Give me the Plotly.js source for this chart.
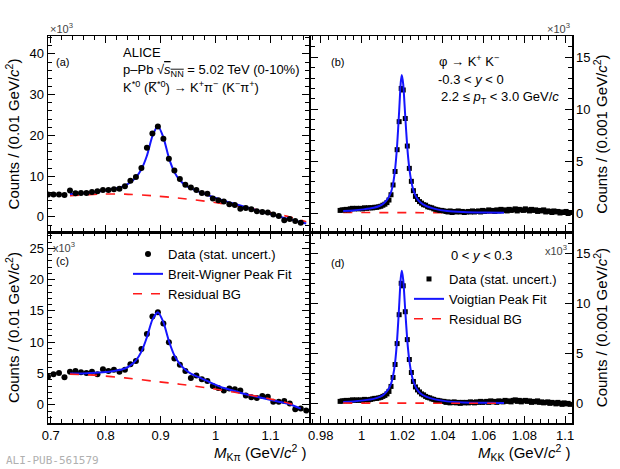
<!DOCTYPE html>
<html>
<head>
<meta charset="utf-8">
<script src="https://cdn.plot.ly/plotly-3.0.1.min.js"></script>
<style>body{margin:0;background:#fff}#chart{width:620px;height:469px}</style>
</head>
<body>
<div id="chart"></div>
<script>
// K*0 panels: 0.01 GeV bins starting at 0.695
const kstStart = 0.695, kstStep = 0.01;
const kstDataA = [5.5,5.5,5.5,5.4,6.5,5.8,5.9,5.9,6.1,6.3,6.6,6.6,6.8,6.9,7.5,8.9,9.8,12,17,20.5,22.2,19.2,14.3,11.4,9.3,7.9,7.2,6.6,5.9,5.7,4.5,4.1,3.8,3.1,2.9,2.0,2.2,1.9,1.4,1.2,1.1,0.6,0.2,-0.8,-0.5,-1.0,-1.4];
const kstDataC = [4.5,4.9,5.1,4.4,5.3,5.4,5.2,5.1,5.3,4.9,5.7,5.4,5.6,5.3,5.6,6.5,7.0,8.9,11.3,14.1,14.8,13.0,10.0,7.4,6.4,5.4,4.3,4.7,4.1,3.8,3.0,2.7,2.3,2.6,2.5,2.3,1.5,1.2,1.1,1.4,1.3,0.5,0.5,0.6,0.2,-0.7,-0.6,-0.9];

const fitAx = [0.735,0.755,0.775,0.795,0.815,0.835,0.845,0.855,0.865,0.875,0.885,0.895,0.905,0.915,0.925,0.935,0.945,0.955,0.975,0.995,1.015,1.035,1.055,1.075,1.095,1.115,1.135,1.155,1.165];
const fitA = [5.6,5.8,6.0,6.4,6.9,7.7,8.5,9.7,11.7,15.0,19.8,22.3,19.5,14.5,11.0,9.0,7.8,7.0,5.9,4.9,4.0,3.2,2.4,1.6,0.9,0.1,-0.6,-1.3,-1.6];
const bgAx = [0.735,0.785,0.835,0.885,0.935,0.985,1.035,1.085,1.135,1.165];
const bgA = [5.2,5.6,5.6,5.2,4.6,3.8,2.8,1.5,0.0,-1.2];

const fitCx = [0.735,0.755,0.775,0.795,0.815,0.835,0.845,0.855,0.865,0.875,0.885,0.895,0.905,0.915,0.925,0.935,0.945,0.955,0.975,0.995,1.015,1.035,1.055,1.075,1.095,1.115,1.135,1.155];
const fitC = [5.0,5.0,5.1,5.2,5.4,5.8,6.3,7.1,8.5,10.8,13.6,14.8,13.2,10.2,7.9,6.5,5.6,5.0,4.2,3.4,2.7,2.2,1.7,1.3,0.9,0.5,0.1,-0.6];
const bgCx = [0.735,0.785,0.835,0.885,0.935,0.985,1.035,1.085,1.135,1.155];
const bgC = [4.9,4.7,4.3,3.8,3.3,2.7,2.0,1.2,0.2,-0.5];

// phi panels: 0.001 GeV bins starting at 0.9895
const phiStart = 0.9895, phiStep = 0.001;
const phiDataB = [0.25,0.3,0.3,0.35,0.3,0.4,0.45,0.4,0.45,0.4,0.45,
  0.4,0.5,0.45,0.5,0.5,0.5,0.55,
  0.55,0.6,0.65,0.75,0.85,1.0,1.25,
  1.76,2.7,4.0,6.1,8.8,12.0,11.85,
  9.1,6.45,4.3,3.05,2.15,1.6,
  1.3,1.1,0.95,0.8,0.75,0.6,0.55,0.5,
  0.4,0.35,0.3,0.25,0.25,0.2,
  0.15,0.1,0.2,0.05,0.15,0.1,0.2,0.1,0.15,0.05,
  0.1,0.15,0.1,0.2,0.1,0.15,0.2,0.1,0.25,0.15,
  0.2,0.3,0.2,0.25,0.15,0.3,0.2,0.35,0.25,0.3,
  0.2,0.35,0.25,0.3,0.4,0.2,0.35,0.3,0.25,0.4,
  0.3,0.2,0.35,0.25,0.3,0.15,0.25,0.2,0.3,0.1,
  0.2,0.15,0.05,0.2,0.1,0.15,0.0,0.1,0.05,0.15,
  -0.05,0.05];
const phiDataD = [0.2,0.25,0.25,0.3,0.25,0.3,0.35,0.3,0.35,0.3,0.35,
  0.3,0.4,0.35,0.35,0.4,0.45,0.5,
  0.5,0.55,0.6,0.7,0.8,0.95,1.2,
  1.7,2.6,3.9,6.0,8.9,12.05,11.8,
  9.2,6.4,4.4,3.1,2.2,1.65,
  1.35,1.15,0.95,0.85,0.7,0.6,0.55,0.45,
  0.4,0.3,0.3,0.25,0.2,0.2,
  0.1,0.15,0.05,0.1,0.15,0.05,0.1,0.0,0.1,0.05,
  0.1,0.05,0.15,0.1,0.05,0.15,0.1,0.2,0.1,0.15,
  0.2,0.1,0.25,0.15,0.2,0.1,0.25,0.2,0.15,0.3,
  0.2,0.25,0.15,0.3,0.35,0.2,0.3,0.15,0.25,0.3,
  0.2,0.25,0.1,0.2,0.15,0.25,0.1,0.15,0.05,0.1,
  0.15,0.0,0.1,0.05,-0.05,0.1,0.0,-0.1,0.05,-0.05,
  0.0,-0.1];

const fitPhiX = [0.991,0.996,1.001,1.006,1.009,1.011,1.013,1.0145,1.0155,1.0165,1.0175,1.0185,1.0193,1.0198,1.0205,1.0215,1.0225,1.0235,1.0245,1.0255,1.027,1.029,1.032,1.036,1.042,1.05,1.06,1.07];
const fitB = [0.2,0.25,0.35,0.5,0.7,0.95,1.4,2.0,2.8,4.2,6.5,9.8,12.6,13.3,12.4,9.3,6.3,4.3,3.0,2.2,1.5,1.0,0.65,0.4,0.2,0.1,0.05,0.03];
const fitD = [0.15,0.2,0.3,0.45,0.65,0.9,1.35,1.95,2.75,4.1,6.4,9.8,12.6,13.3,12.4,9.3,6.3,4.3,3.0,2.2,1.5,1.0,0.65,0.4,0.2,0.1,0.05,0.03];
const bgPhiX = [0.991,1.03,1.07];
const bgB = [0.05,0.03,0.02];
const bgD = [0.03,0.02,0.01];

const bins = (start, step, n) => Array.from({length: n}, (_, i) => +(start + step * i).toFixed(5));

const blue = '#1515ff', red = '#ff1a1a';
function dataTrace(xs, ys, sym, size, ax, leg, show) {
  return {x: xs, y: ys, mode: 'markers', type: 'scatter', xaxis: 'x' + ax, yaxis: 'y' + ax,
    marker: {color: 'black', symbol: sym, size: size}, name: 'Data (stat. uncert.)',
    showlegend: show, legend: leg};
}
function lineTrace(xs, ys, color, dash, ax, name, leg, show) {
  return {x: xs, y: ys, mode: 'lines', type: 'scatter', xaxis: 'x' + ax, yaxis: 'y' + ax,
    line: {color: color, width: dash ? 1.6 : 2, dash: dash ? 'dash' : 'solid', shape: 'spline', smoothing: 0.6},
    name: name, showlegend: show, legend: leg};
}

const kx = bins(kstStart, kstStep, 48);
const px = bins(phiStart, phiStep, 114);
const traces = [
  lineTrace(bgAx, bgA, red, true, '', 'Residual BG', 'legend', false),
  lineTrace(fitAx, fitA, blue, false, '', 'Breit-Wigner Peak Fit', 'legend', false),
  dataTrace(kx.slice(0, kstDataA.length), kstDataA, 'circle', 6, '', 'legend', false),
  lineTrace(bgPhiX, bgB, red, true, '2', 'Residual BG', 'legend2', false),
  dataTrace(px, phiDataB, 'square', 5, '2', 'legend2', false),
  lineTrace(fitPhiX, fitB, blue, false, '2', 'Voigtian Peak Fit', 'legend2', false),
  dataTrace(kx, kstDataC, 'circle', 6, '3', 'legend', true),
  lineTrace(fitCx, fitC, blue, false, '3', 'Breit-Wigner Peak Fit', 'legend', true),
  lineTrace(bgCx, bgC, red, true, '3', 'Residual BG', 'legend', true),
  dataTrace(px, phiDataD, 'square', 5, '4', 'legend2', true),
  lineTrace(fitPhiX, fitD, blue, false, '4', 'Voigtian Peak Fit', 'legend2', true),
  lineTrace(bgPhiX, bgD, red, true, '4', 'Residual BG', 'legend2', true)
];

const W = 620, H = 469;
const fx = p => p / W, fy = p => 1 - p / H;
const font = {family: 'Liberation Sans, Arial, sans-serif', size: 13, color: 'black'};
const axBase = {showline: true, linecolor: 'black', linewidth: 1.5, mirror: 'ticks', ticks: 'inside',
  ticklen: 7, tickcolor: 'black', zeroline: false, showgrid: false, tickfont: font,
  minor: {ticks: 'inside', ticklen: 4, tickcolor: 'black'}};
const xl = {...axBase, range: [0.695, 1.17], dtick: 0.1, tick0: 0.7, minor: {...axBase.minor, dtick: 0.02}, domain: [fx(48), fx(309)]};
const xr = {...axBase, range: [0.9752, 1.1034], dtick: 0.02, tick0: 0.98, minor: {...axBase.minor, dtick: 0.004}, domain: [fx(311), fx(572)]};
const yTitleL = {text: 'Counts / (0.01 GeV/<i>c</i><sup>2</sup>)', font: {...font, size: 15}, standoff: 6};
const yTitleR = {text: 'Counts / (0.001 GeV/<i>c</i><sup>2</sup>)', font: {...font, size: 15}, standoff: 6};

const ann = (x, y, text, opts = {}) => ({xref: 'paper', yref: 'paper', x: fx(x), y: fy(y), text: text,
  showarrow: false, xanchor: 'left', yanchor: 'middle', font: font, ...opts});

const layout = {
  width: W, height: H, margin: {l: 0, r: 0, t: 0, b: 0},
  paper_bgcolor: 'white', plot_bgcolor: 'white', font: font,
  xaxis: {...xl, anchor: 'y', showticklabels: false},
  yaxis: {...axBase, range: [-3.7, 44.4], dtick: 10, minor: {...axBase.minor, dtick: 2}, domain: [fy(232), fy(36)], anchor: 'x', title: yTitleL},
  xaxis2: {...xr, anchor: 'y2', showticklabels: false},
  yaxis2: {...axBase, range: [-1.83, 17.05], dtick: 5, minor: {...axBase.minor, dtick: 1}, domain: [fy(232), fy(36)], anchor: 'x2', side: 'right', title: yTitleR},
  xaxis3: {...xl, anchor: 'y3'},
  yaxis3: {...axBase, range: [-2.9, 27.6], dtick: 5, minor: {...axBase.minor, dtick: 1}, domain: [fy(423), fy(232)], anchor: 'x3', title: yTitleL},
  xaxis4: {...xr, anchor: 'y4'},
  yaxis4: {...axBase, range: [-1.97, 17.2], dtick: 5, minor: {...axBase.minor, dtick: 1}, domain: [fy(423), fy(232)], anchor: 'x4', side: 'right', title: yTitleR},
  legend: {x: fx(128), y: fy(239), xanchor: 'left', yanchor: 'top', bgcolor: 'rgba(0,0,0,0)', font: font, tracegroupgap: 0, itemwidth: 30},
  legend2: {x: fx(409), y: fy(264), xanchor: 'left', yanchor: 'top', bgcolor: 'rgba(0,0,0,0)', font: font, tracegroupgap: 0, itemwidth: 30},
  annotations: [
    ann(48, 28, '×10<sup>3</sup>', {font: {...font, size: 11, color: '#444'}}),
    ann(572, 28, '×10<sup>3</sup>', {xanchor: 'right', font: {...font, size: 11, color: '#444'}}),
    ann(51, 247, 'x10<sup>3</sup>', {font: {...font, size: 11, color: '#444'}}),
    ann(569, 250, 'x10<sup>3</sup>', {xanchor: 'right', font: {...font, size: 11, color: '#444'}}),
    ann(54, 62, '(a)', {font: {...font, size: 11}}),
    ann(329, 62, '(b)', {font: {...font, size: 11}}),
    ann(54, 261, '(c)', {font: {...font, size: 11}}),
    ann(329, 263, '(d)', {font: {...font, size: 11}}),
    ann(121, 53, 'ALICE'),
    ann(121, 70, 'p–Pb √<span style="text-decoration:overline"><i>s</i><sub>NN</sub></span> = 5.02 TeV (0-10%)'),
    ann(121, 87, 'K<sup>*0</sup> (K̅<sup>*0</sup>) → K<sup>+</sup>π<sup>−</sup> (K<sup>−</sup>π<sup>+</sup>)'),
    ann(437, 61, 'φ → K<sup>+</sup> K<sup>−</sup>'),
    ann(436, 80, '-0.3 < <i>y</i> < 0'),
    ann(439, 97, '2.2 ≤ <i>p</i><sub>T</sub> < 3.0 GeV/<i>c</i>'),
    ann(449, 255, '0 < <i>y</i> < 0.3'),
    ann(309, 452, '<i>M</i><sub>Kπ</sub> (GeV/<i>c</i><sup>2</sup> )', {xanchor: 'right', font: {...font, size: 15}}),
    ann(572, 452, '<i>M</i><sub>KK</sub> (GeV/<i>c</i><sup>2</sup> )', {xanchor: 'right', font: {...font, size: 15}}),
    ann(4, 460, 'ALI-PUB-561579', {font: {family: 'DejaVu Sans Mono, monospace', size: 11, color: '#b0b0b0'}})
  ]
};

Plotly.newPlot('chart', traces, layout, {displayModeBar: false, staticPlot: true});
</script>
</body>
</html>
